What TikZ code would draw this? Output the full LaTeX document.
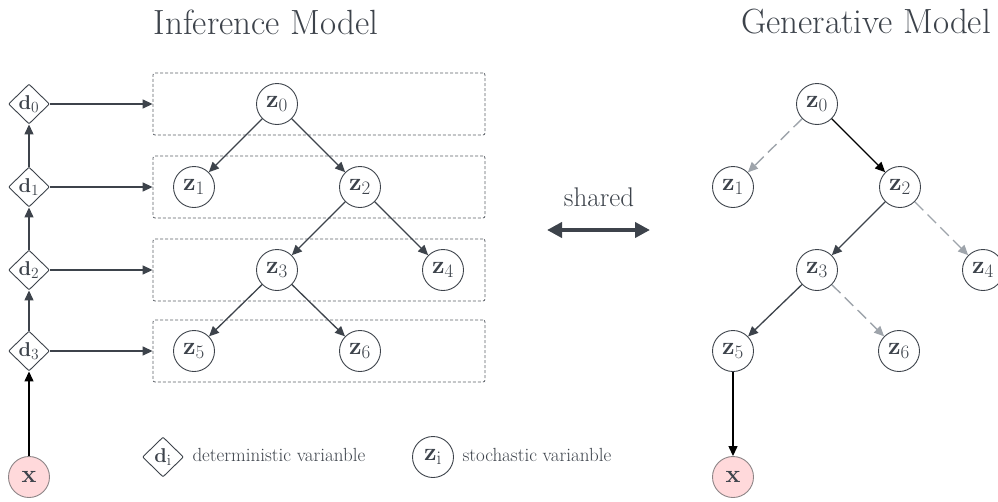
\RequirePackage{fix-cm}
\documentclass[tikz,border=0pt]{standalone}
\usetikzlibrary{shapes.geometric,arrows.meta}
% larger subscripts for the variable labels
\DeclareMathSizes{25}{25}{19}{14}
\DeclareMathSizes{20}{20}{15.5}{12}
\definecolor{ink}{HTML}{3D434B}
\definecolor{fade}{HTML}{9EA4AB}
\definecolor{pinkfill}{HTML}{FFD9DB}
\definecolor{pinkedge}{HTML}{8C8486}
\tikzset{
  zvar/.style={circle,draw=ink,line width=0.9pt,minimum size=41pt,inner sep=0pt,
    text=ink,font=\fontsize{25}{25}\selectfont},
  dvar/.style={diamond,draw=ink,line width=0.9pt,minimum width=41pt,minimum height=40pt,
    inner sep=0pt,rounded corners=1pt,text=ink,font=\fontsize{20}{20}\selectfont},
  obs/.style={zvar,fill=pinkfill,draw=pinkedge},
  layer/.style={draw=ink!85,dash pattern=on 3pt off 2pt,rounded corners=2pt,line width=0.8pt,
    minimum width=332pt,minimum height=62pt,inner sep=0pt},
  link/.style={-{Triangle[length=10pt,width=9pt]},draw=ink,line width=1.3pt},
  strong/.style={-{Triangle[length=10pt,width=9pt]},draw=black,line width=1.3pt},
  faint/.style={-{Triangle[length=10pt,width=9pt]},draw=fade,line width=1.4pt,
    dash pattern=on 12pt off 6pt},
  title/.style={text=ink,font=\fontsize{35}{35}\selectfont},
  caption/.style={text=ink,font=\fontsize{19}{19}\selectfont,anchor=west},
}
\begin{document}
\begin{tikzpicture}[x=1pt,y=-1pt]
\useasboundingbox (0,0) rectangle (998,501);

% titles
\node[title] (tInf) at (266,22) {Inference Model};
\node[title] (tGen) at (866,22) {Generative Model};

% ---------- inference model ----------
\node[layer] (L0) at (319,104) {};
\node[layer] (L1) at (319,187) {};
\node[layer] (L2) at (319,270) {};
\node[layer] (L3) at (319,351) {};

\node[dvar] (d0) at (29,104) {$\mathbf{d}_0$};
\node[dvar] (d1) at (29,187) {$\mathbf{d}_1$};
\node[dvar] (d2) at (29,270) {$\mathbf{d}_2$};
\node[dvar] (d3) at (29,351) {$\mathbf{d}_3$};
\node[obs] (xi) at (29,477) {$\mathbf{x}$};

\draw[strong] (xi) -- (d3);
\draw[link] (d3) -- (d2);
\draw[link] (d2) -- (d1);
\draw[link] (d1) -- (d0);
\draw[link] (d0) -- (L0.west);
\draw[link] (d1) -- (L1.west);
\draw[link] (d2) -- (L2.west);
\draw[link] (d3) -- (L3.west);

\node[zvar] (a0) at (277,104) {$\mathbf{z}_0$};
\node[zvar] (a1) at (194,187) {$\mathbf{z}_1$};
\node[zvar] (a2) at (360,187) {$\mathbf{z}_2$};
\node[zvar] (a3) at (277,270) {$\mathbf{z}_3$};
\node[zvar] (a4) at (443,270) {$\mathbf{z}_4$};
\node[zvar] (a5) at (194,351) {$\mathbf{z}_5$};
\node[zvar] (a6) at (360,351) {$\mathbf{z}_6$};

\draw[link] (a0) -- (a1);
\draw[link] (a0) -- (a2);
\draw[link] (a2) -- (a3);
\draw[link] (a2) -- (a4);
\draw[link] (a3) -- (a5);
\draw[link] (a3) -- (a6);

% legend
\node[dvar] (legD) at (163,457) {$\mathbf{d}_\mathrm{i}$};
\node[caption] (legDt) at (189,455) {deterministic varianble};
\node[zvar] (legZ) at (433,457) {$\mathbf{z}_\mathrm{i}$};
\node[caption] (legZt) at (459,455) {stochastic varianble};

% shared parameters
\node[text=ink,font=\fontsize{27}{27}\selectfont] (sh) at (599,197) {shared};
\coordinate (sL) at (547,230);
\coordinate (sR) at (650,230);
\draw[{Triangle[length=15pt,width=15pt]}-{Triangle[length=15pt,width=15pt]},draw=ink,line width=4pt] (sL) -- (sR);

% ---------- generative model ----------
\node[zvar] (g0) at (817,104) {$\mathbf{z}_0$};
\node[zvar] (g1) at (733,187) {$\mathbf{z}_1$};
\node[zvar] (g2) at (900,187) {$\mathbf{z}_2$};
\node[zvar] (g3) at (817,270) {$\mathbf{z}_3$};
\node[zvar] (g4) at (983,270) {$\mathbf{z}_4$};
\node[zvar] (g5) at (733,351) {$\mathbf{z}_5$};
\node[zvar] (g6) at (899,351) {$\mathbf{z}_6$};
\node[obs] (xg) at (733,477) {$\mathbf{x}$};

\draw[faint] (g0) -- (g1);
\draw[strong] (g0) -- (g2);
\draw[link] (g2) -- (g3);
\draw[faint] (g2) -- (g4);
\draw[link] (g3) -- (g5);
\draw[faint] (g3) -- (g6);
\draw[strong] (g5) -- (xg);
\end{tikzpicture}
\end{document}
